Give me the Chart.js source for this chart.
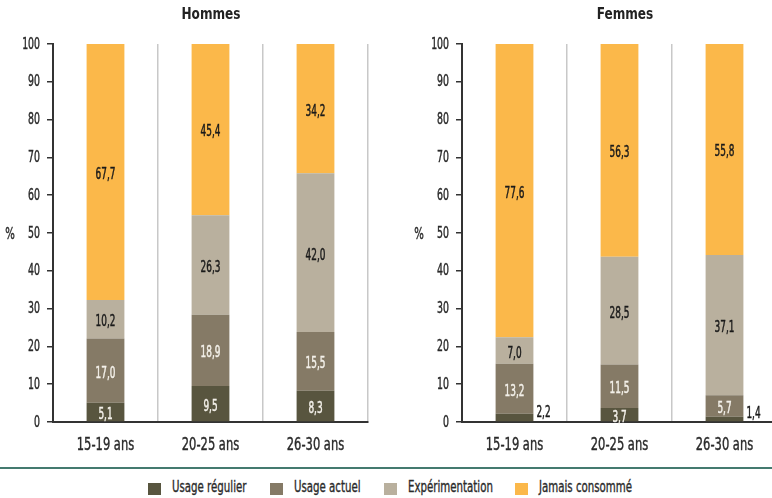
<!DOCTYPE html>
<html><head><meta charset="utf-8">
<script src="https://cdn.jsdelivr.net/npm/chart.js@4/dist/chart.umd.min.js"></script>
<style>
html,body{margin:0;padding:0;background:#fff;}
body{width:772px;height:498px;position:relative;overflow:hidden;font-family:"DejaVu Sans Condensed","DejaVu Sans",sans-serif;}
#c1{position:absolute;left:0;top:0;}
#c2{position:absolute;left:390px;top:0;}
#sep{position:absolute;left:0;top:467px;width:772px;height:2px;background:#447a6f;}
#legend{position:absolute;left:0;top:477px;width:772px;height:20px;}
.item{position:absolute;top:0;height:20px;line-height:20px;font-size:16px;color:#2a2a2a;white-space:nowrap;transform:scaleX(0.71);transform-origin:0 50%;-webkit-text-stroke:0.35px #2a2a2a;}
.sw{position:absolute;top:6px;width:13px;height:12px;}
</style></head><body>
<canvas id="c1" width="390" height="460"></canvas>
<canvas id="c2" width="387" height="460"></canvas>
<div id="sep"></div>
<div id="legend"></div>
<script>
const categories = ["15-19 ans", "20-25 ans", "26-30 ans"];
const seriesNames = ["Usage régulier", "Usage actuel", "Expérimentation", "Jamais consommé"];
const hommesRegulier = [5.1, 9.5, 8.3];
const hommesActuel = [17.0, 18.9, 15.5];
const hommesExperimentation = [10.2, 26.3, 42.0];
const hommesJamais = [67.7, 45.4, 34.2];
const femmesRegulier = [2.2, 3.7, 1.4];
const femmesActuel = [13.2, 11.5, 5.7];
const femmesExperimentation = [7.0, 28.5, 37.1];
const femmesJamais = [77.6, 56.3, 55.8];
const yTicks = [0,10,20,30,40,50,60,70,80,90,100];

const colors = ["#58553f", "#857a66", "#b9b09e", "#fbb84a"];
const labelColors = ["#f4f1ea", "#f4f1ea", "#1a1a1a", "#1a1a1a"];
const FONT = '"DejaVu Sans Condensed","DejaVu Sans",sans-serif';

const fmt = v => v.toFixed(1).replace('.', ',');

function ctext(ctx, txt, x, y, align, font, sx, color, stroke) {
  ctx.save();
  ctx.font = font;
  ctx.fillStyle = color;
  ctx.strokeStyle = color;
  ctx.lineWidth = stroke;
  ctx.textBaseline = 'alphabetic';
  ctx.textAlign = align;
  ctx.translate(x, y);
  ctx.scale(sx, 1);
  ctx.fillText(txt, 0, 0);
  if (stroke > 0) ctx.strokeText(txt, 0, 0);
  ctx.restore();
}

const labelsPlugin = {
  id: 'segLabels',
  afterDatasetsDraw(chart) {
    const ctx = chart.ctx;
    chart.data.datasets.forEach((ds, di) => {
      const meta = chart.getDatasetMeta(di);
      meta.data.forEach((bar, i) => {
        const v = ds.data[i];
        const mid = (bar.y + bar.base) / 2;
        if (v < 3) {
          ctext(ctx, fmt(v), bar.x + bar.width / 2 + 3, mid - 0.5, 'left', '16px ' + FONT, 0.62, '#1a1a1a', 0.5);
        } else {
          ctext(ctx, fmt(v), bar.x, mid + 7, 'center', '16px ' + FONT, 0.62, labelColors[di], 0.5);
        }
      });
    });
  }
};

const decoPlugin = {
  id: 'deco',
  afterDraw(chart, args, opts) {
    const ctx = chart.ctx;
    const a = chart.chartArea;
    const ys = chart.scales.y, xs = chart.scales.x;
    ctext(ctx, opts.title, opts.titleX, 18.5, 'center', 'bold 16px ' + FONT, 0.84, '#222', 0);
    ctext(ctx, '%', a.left - 43, ys.getPixelForValue(50) + 5.5, 'center', '16px ' + FONT, 0.7, '#2a2a2a', 0.4);
    yTicks.forEach(v => {
      ctext(ctx, String(v), a.left - 13, ys.getPixelForValue(v) + 4.5, 'right', '16px ' + FONT, 0.65, '#2a2a2a', 0.45);
    });
    categories.forEach((c, i) => {
      ctext(ctx, c, xs.getPixelForValue(i), 450, 'center', '18px ' + FONT, 0.71, '#2a2a2a', 0.4);
    });
  }
};

function makeChart(id, title, titleX, data, leftW, rightPad) {
  return new Chart(document.getElementById(id), {
    type: 'bar',
    data: {
      labels: categories,
      datasets: data.map((d, i) => ({
        label: seriesNames[i],
        data: d,
        backgroundColor: colors[i],
        borderWidth: 0,
        barPercentage: 0.36,
        categoryPercentage: 1
      }))
    },
    options: {
      responsive: false,
      animation: false,
      layout: { padding: { top: 44, right: rightPad, left: 0, bottom: 0 } },
      plugins: {
        legend: { display: false },
        tooltip: { enabled: false },
        title: { display: false },
        deco: { title: title, titleX: titleX }
      },
      scales: {
        x: {
          stacked: true,
          grid: { offset: true, color: '#c8c8c8', lineWidth: 1.5, drawTicks: false },
          border: { display: true, color: '#333', width: 2 },
          ticks: { display: false },
          afterFit(s) { s.height = 38; }
        },
        y: {
          stacked: true,
          min: 0, max: 100,
          afterBuildTicks(s) { s.ticks = yTicks.map(v => ({ value: v })); },
          grid: { drawOnChartArea: false, color: '#333', tickLength: 6, lineWidth: 1.5 },
          border: { display: true, color: '#333', width: 2 },
          ticks: { display: false },
          afterFit(s) { s.width = leftW; }
        }
      }
    },
    plugins: [labelsPlugin, decoPlugin]
  });
}

makeChart('c1', 'Hommes', 211, [hommesRegulier, hommesActuel, hommesExperimentation, hommesJamais], 53, 22);
makeChart('c2', 'Femmes', 235, [femmesRegulier, femmesActuel, femmesExperimentation, femmesJamais], 72, 0);

const swatchPos = [148, 270, 384, 515];
const textPos = [172, 294, 408, 539];
const leg = document.getElementById('legend');
seriesNames.forEach((n, i) => {
  const sw = document.createElement('div');
  sw.className = 'sw';
  sw.style.left = swatchPos[i] + 'px';
  sw.style.background = colors[i];
  leg.appendChild(sw);
  const t = document.createElement('div');
  t.className = 'item';
  t.style.left = textPos[i] + 'px';
  t.textContent = n;
  leg.appendChild(t);
});
</script>
</body></html>
